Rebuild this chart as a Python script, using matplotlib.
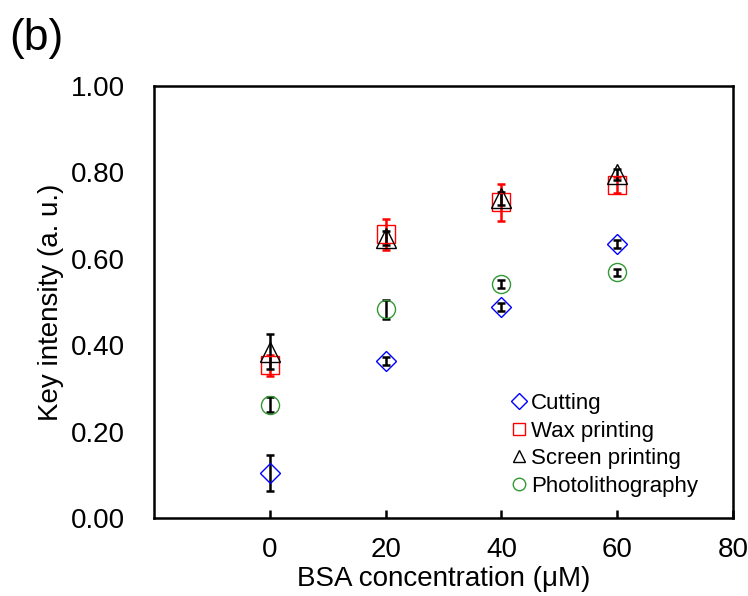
import matplotlib
matplotlib.use('Agg')
import matplotlib.pyplot as plt
from matplotlib.lines import Line2D

plt.rcParams['font.family'] = ['Liberation Sans', 'DejaVu Sans']

# BSA concentration (uM)
conc = [0, 20, 40, 60]

cutting = [0.104, 0.363, 0.489, 0.634]
cutting_err = [0.042, 0.010, 0.009, 0.009]

wax = [0.353, 0.656, 0.730, 0.771]
wax_err = [0.025, 0.036, 0.042, 0.019]

screen = [0.385, 0.648, 0.740, 0.795]
screen_err = [0.040, 0.016, 0.015, 0.012]

photo = [0.262, 0.483, 0.541, 0.568]
photo_err = [0.018, 0.022, 0.010, 0.008]

series = [
    ('Cutting', cutting, cutting_err, 'D', '#0000ff', 'black', 10),
    ('Wax printing', wax, wax_err, 's', '#ff0000', '#ff0000', 13),
    ('Screen printing', screen, screen_err, '^', 'black', 'black', 14),
    ('Photolithography', photo, photo_err, 'o', '#339933', 'black', 13),
]

fig = plt.figure(figsize=(7.48, 5.96), dpi=100)
ax = fig.add_axes([0.206, 0.131, 0.774, 0.725])

handles = []
for label, vals, errs, mk, col, ecol, ms in series:
    ax.errorbar(conc, vals, yerr=errs, fmt='none', ecolor=ecol,
                elinewidth=1.8, capsize=3, capthick=1.8, zorder=2)
    ax.plot(conc, vals, linestyle='none', marker=mk, markersize=ms,
            markerfacecolor='none', markeredgecolor=col,
            markeredgewidth=1.0, zorder=3)
    handles.append(Line2D([], [], linestyle='none', marker=mk,
                          markersize=9 if mk != 'D' else 8,
                          markerfacecolor='none', markeredgecolor=col,
                          markeredgewidth=1.0, label=label))

ax.set_xlim(-20, 80)
ax.set_ylim(0, 1.0)
ax.set_xticks([0, 20, 40, 60, 80])
ax.set_yticks([0, 0.2, 0.4, 0.6, 0.8, 1.0])
ax.set_yticklabels(['%.2f' % v for v in [0, 0.2, 0.4, 0.6, 0.8, 1.0]])

for sp in ax.spines.values():
    sp.set_linewidth(1.8)

ax.tick_params(axis='x', direction='in', length=6, width=1.8,
               labelsize=20, pad=14)
ax.tick_params(axis='y', length=0, labelsize=20, pad=21)

ax.set_xlabel('BSA concentration (μM)', fontsize=20, labelpad=2)
ax.set_ylabel('Key intensity (a. u.)', fontsize=20, labelpad=5)

ax.legend(handles=handles, loc='upper left', bbox_to_anchor=(0.605, 0.31),
          frameon=False, fontsize=16, handlelength=0.5,
          handletextpad=0.3, labelspacing=0.3, borderaxespad=0)

fig.text(0.012, 0.97, '(b)', fontsize=32, va='top', ha='left')

fig.savefig('out.png', dpi=100)
